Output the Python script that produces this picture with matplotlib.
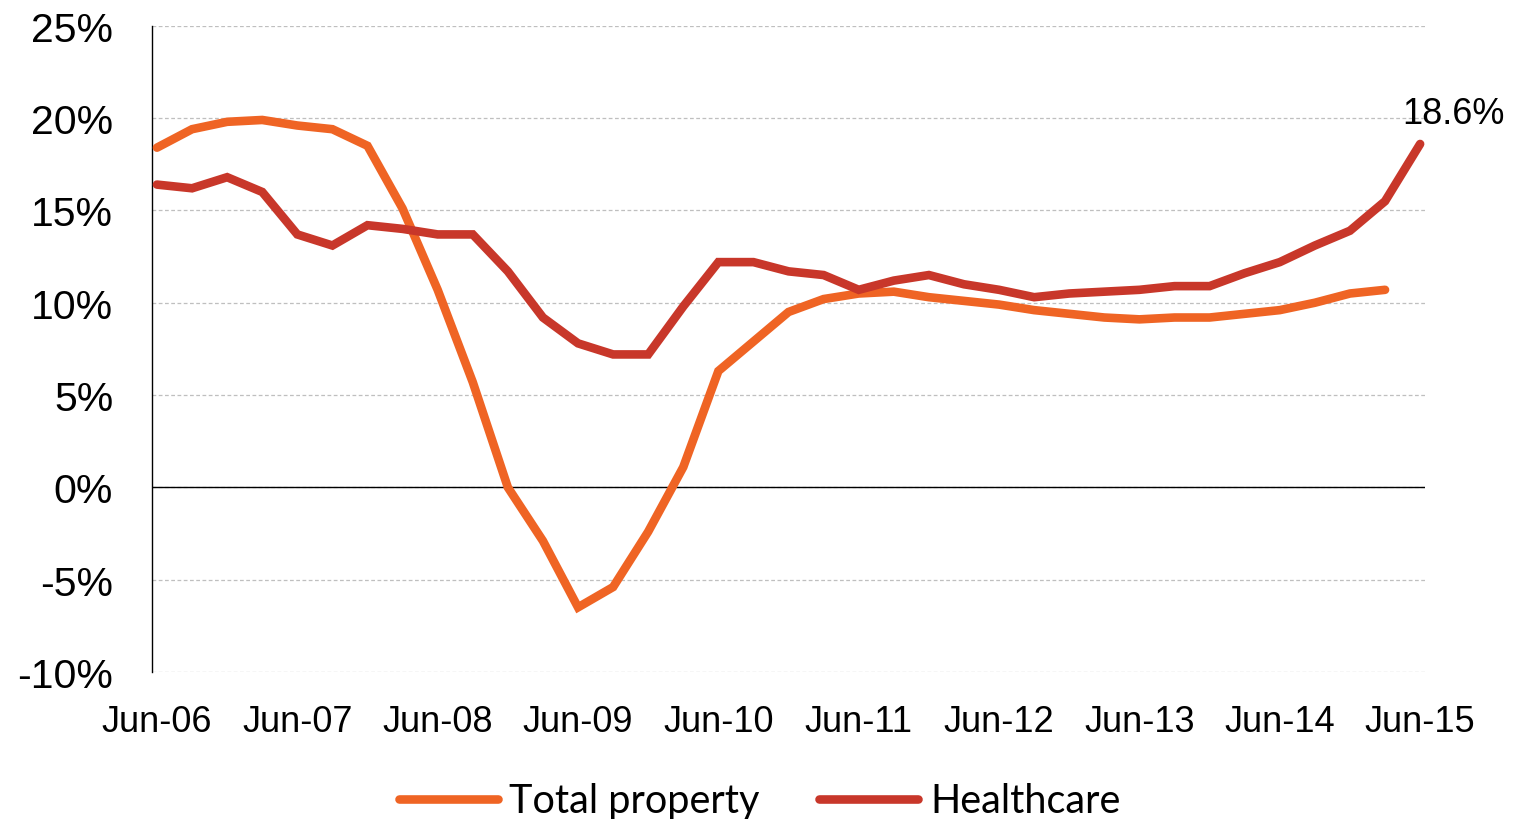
import numpy as np
import matplotlib
matplotlib.use("Agg")
import matplotlib.pyplot as plt
from matplotlib.lines import Line2D

# quarterly series, Jun-06 .. Jun-15 (total property stops one quarter early)
tick_labels = ["Jun-06", "Jun-07", "Jun-08", "Jun-09", "Jun-10",
               "Jun-11", "Jun-12", "Jun-13", "Jun-14", "Jun-15"]
total_property = [18.4, 19.4, 19.8, 19.9, 19.6, 19.4, 18.5, 15.1, 10.7, 5.7,
                  0.0, -2.9, -6.5, -5.4, -2.4, 1.1, 6.3, 7.9, 9.5, 10.2,
                  10.5, 10.6, 10.3, 10.1, 9.9, 9.6, 9.4, 9.2, 9.1, 9.2,
                  9.2, 9.4, 9.6, 10.0, 10.5, 10.7]
healthcare = [16.4, 16.2, 16.8, 16.0, 13.7, 13.1, 14.2, 14.0, 13.7, 13.7,
              11.7, 9.2, 7.8, 7.2, 7.2, 9.8, 12.2, 12.2, 11.7, 11.5,
              10.7, 11.2, 11.5, 11.0, 10.7, 10.3, 10.5, 10.6, 10.7, 10.9,
              10.9, 11.6, 12.2, 13.1, 13.9, 15.5, 18.6]

orange = "#EF6424"
red = "#C8372A"

fig = plt.figure(figsize=(15.16, 8.2), dpi=100)
ax = fig.add_axes([0.1003, 0.1793, 0.8397, 0.788])

x_tp = np.arange(len(total_property))
x_hc = np.arange(len(healthcare))
ax.plot(x_tp, total_property, color=orange, lw=6.2, solid_capstyle="round",
        solid_joinstyle="miter", zorder=3)
ax.plot(x_hc, healthcare, color=red, lw=6.2, solid_capstyle="round",
        solid_joinstyle="miter", zorder=4)

ax.set_xlim(-0.14, 36.14)
ax.set_ylim(-10, 25)
ax.set_yticks(np.arange(-10, 26, 5))
ax.set_yticklabels([f"{v}%" for v in range(-10, 26, 5)],
                   family="Liberation Sans", fontsize=29.5)
ax.set_xticks(np.arange(0, 37, 4))
ax.set_xticklabels(tick_labels, family="Liberation Sans", fontsize=26)
ax.tick_params(axis="both", length=0)
ax.tick_params(axis="y", pad=28)
ax.tick_params(axis="x", pad=23)

ax.grid(axis="y", color="#bfbfbf", linestyle=(0, (3, 2)), linewidth=0.9)
ax.axhline(0, color="black", lw=1.0, zorder=2)
for side in ["top", "right", "bottom"]:
    ax.spines[side].set_visible(False)
ax.spines["left"].set_linewidth(1.0)

ax.annotate(f"{healthcare[-1]}%", (x_hc[-1], healthcare[-1]),
            xytext=(-13, 9), textcoords="offset points",
            family="Liberation Sans", fontsize=26, ha="left", va="bottom")

handles = [Line2D([], [], color=orange, lw=6.2, solid_capstyle="round"),
           Line2D([], [], color=red, lw=6.2, solid_capstyle="round")]
fig.legend(handles, ["Total property", "Healthcare"], loc="center",
           bbox_to_anchor=(0.501, 0.022), ncol=2, frameon=False,
           prop={"family": "Lato", "size": 28.5}, handlelength=2.5,
           handletextpad=0.3, columnspacing=1.5)

fig.savefig("out.png", dpi=100)
